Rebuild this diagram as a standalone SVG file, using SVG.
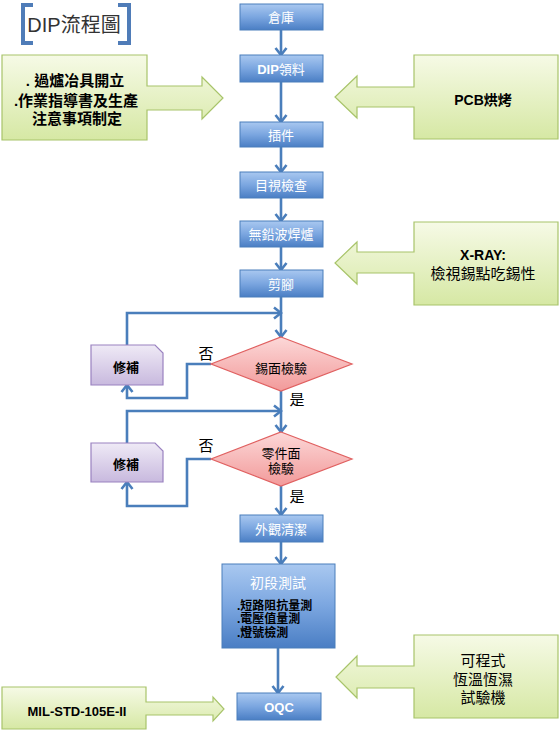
<svg xmlns="http://www.w3.org/2000/svg" width="560" height="731" viewBox="0 0 560 731">
<defs>
<linearGradient id="gBlue" x1="0" y1="0" x2="0" y2="1">
<stop offset="0" stop-color="#a9c8f0"/><stop offset="0.5" stop-color="#7ba6e0"/><stop offset="1" stop-color="#4a7ec4"/>
</linearGradient>
<linearGradient id="gGreen" x1="0" y1="0" x2="0" y2="1">
<stop offset="0" stop-color="#f6fae6"/><stop offset="1" stop-color="#d6e8a4"/>
</linearGradient>
<linearGradient id="gRed" x1="0" y1="0" x2="0" y2="1">
<stop offset="0" stop-color="#fcd8d8"/><stop offset="1" stop-color="#f29a9a"/>
</linearGradient>
<linearGradient id="gPurple" x1="0" y1="0" x2="0" y2="1">
<stop offset="0" stop-color="#efeaf6"/><stop offset="1" stop-color="#c8b9de"/>
</linearGradient>
<marker id="arr" markerUnits="userSpaceOnUse" markerWidth="14" markerHeight="14" viewBox="0 0 14 14" refX="12" refY="7" orient="auto">
<path d="M5,1.5 L12,7 L5,12.5" fill="none" stroke="#4a7ebb" stroke-width="2.6"/>
</marker>
</defs>
<style>
text{font-family:"Liberation Sans","Noto Sans CJK TC",sans-serif;text-anchor:middle;dominant-baseline:central}
.blue{fill:url(#gBlue);stroke:#4a7ebb;stroke-width:1}
.bt{fill:#fff;font-size:13px}
.green{fill:url(#gGreen);stroke:#a8c46a;stroke-width:1.2}
.gt{fill:#000;font-size:15px;font-weight:bold}
.red{fill:url(#gRed);stroke:#e06060;stroke-width:1.2}
.purple{fill:url(#gPurple);stroke:#9a82c0;stroke-width:1.2}
.dt{fill:#000;font-size:13px}
.conn{fill:none;stroke:#4a7ebb;stroke-width:2.6;marker-end:url(#arr)}
.lbl{fill:#000;font-size:15px}
</style>
<rect width="560" height="731" fill="#fff"/>

<g id="title">
<path d="M33,5 H23 V43 H33" fill="none" stroke="#4f7cb8" stroke-width="4"/>
<path d="M118,5 H129 V43 H118" fill="none" stroke="#4f7cb8" stroke-width="4"/>
<text x="74" y="25" style="font-size:20px;fill:#333">DIP流程圖</text>
</g>

<g id="connectors">
<path class="conn" d="M281,30 V55"/>
<path class="conn" d="M281,82 V122"/>
<path class="conn" d="M281,147 V172"/>
<path class="conn" d="M281,198 V221"/>
<path class="conn" d="M281,247 V270"/>
<path class="conn" d="M281,297 V337"/>
<path class="conn" d="M127,345 V313 H281"/>
<path class="conn" d="M211,364 H187 V398 H127 V385"/>
<path class="conn" d="M281,391 V432"/>
<path class="conn" d="M127,443 V411 H281"/>
<path class="conn" d="M211,459 H187 V506 H127 V482"/>
<path class="conn" d="M281,486 V515"/>
<path class="conn" d="M281,542 V564"/>
<path class="conn" d="M278,648 V693"/>
<text class="lbl" x="206" y="353">否</text>
<text class="lbl" x="297" y="399">是</text>
<text class="lbl" x="206" y="445">否</text>
<text class="lbl" x="297" y="496">是</text>
</g>

<g id="n-warehouse"><rect class="blue" x="240" y="4" width="83" height="26"/><text class="bt" x="281" y="17">倉庫</text></g>
<g id="n-dip"><rect class="blue" x="240" y="55" width="83" height="27"/><text class="bt" x="281" y="69"><tspan font-weight="bold">DIP</tspan>領料</text></g>
<g id="n-insert"><rect class="blue" x="240" y="122" width="83" height="25"/><text class="bt" x="281" y="135">插件</text></g>
<g id="n-visual"><rect class="blue" x="240" y="172" width="83" height="26"/><text class="bt" x="281" y="185">目視檢查</text></g>
<g id="n-wave"><rect class="blue" x="240" y="221" width="83" height="26"/><text class="bt" x="281" y="234">無鉛波焊爐</text></g>
<g id="n-trim"><rect class="blue" x="240" y="270" width="83" height="27"/><text class="bt" x="281" y="284">剪腳</text></g>

<g id="d-solder"><polygon class="red" points="281,337 352,364 281,391 211,364"/><text class="dt" x="281" y="368">錫面檢驗</text></g>
<g id="d-comp"><polygon class="red" points="281,432 352,459 281,486 211,459"/><text class="dt" x="281" y="453">零件面</text><text class="dt" x="281" y="468">檢驗</text></g>

<g id="r-repair1"><path class="purple" d="M91,345 H155 L163,353 V385 H91 Z"/><text class="dt" x="126" y="367" font-weight="bold">修補</text></g>
<g id="r-repair2"><path class="purple" d="M91,443 H155 L163,451 V482 H91 Z"/><text class="dt" x="126" y="464" font-weight="bold">修補</text></g>

<g id="n-clean"><rect class="blue" x="240" y="515" width="83" height="27"/><text class="bt" x="281" y="529">外觀清潔</text></g>
<g id="n-test"><rect class="blue" x="222" y="564" width="113" height="84"/>
<text class="bt" x="278" y="583" style="font-size:14px">初段測試</text>
<text x="237" y="606" style="font-size:12px;font-weight:bold;text-anchor:start;fill:#000">.短路阻抗量測</text>
<text x="237" y="619" style="font-size:12px;font-weight:bold;text-anchor:start;fill:#000">.電壓值量測</text>
<text x="237" y="633" style="font-size:12px;font-weight:bold;text-anchor:start;fill:#000">.燈號檢測</text>
</g>
<g id="n-oqc"><rect class="blue" x="237" y="693" width="84" height="27"/><text class="bt" x="279" y="707" font-weight="bold">OQC</text></g>

<g id="g-fixture"><path class="green" d="M2,55 H147 V86 H202 V77 L223,98 L202,119 V110 H147 V140 H2 Z"/>
<text class="gt" x="75" y="80">. 過爐冶具開立</text>
<text class="gt" x="76" y="100">.作業指導書及生產</text>
<text class="gt" x="77" y="118">注意事項制定</text></g>
<g id="g-pcb"><path class="green" d="M558,55 V139 H414 V107 H357 V118 L335,97 L357,76 V87 H414 V55 Z"/>
<text class="gt" x="483" y="100" style="font-size:14px">PCB烘烤</text></g>
<g id="g-xray"><path class="green" d="M558,222 V305 H414 V273 H357 V284 L335,263 L357,242 V252 H414 V222 Z"/>
<text class="gt" x="483" y="255" style="font-size:14px">X-RAY:</text>
<text class="gt" x="483" y="273" style="font-weight:normal">檢視錫點吃錫性</text></g>
<g id="g-chamber"><path class="green" d="M558,635 V718 H414 V688 H357 V698 L336,677 L357,656 V666 H414 V635 Z"/>
<text class="gt" x="483" y="660" style="font-weight:normal">可程式</text>
<text class="gt" x="483" y="679" style="font-weight:normal">恆溫恆濕</text>
<text class="gt" x="483" y="697" style="font-weight:normal">試驗機</text></g>
<g id="g-mil"><path class="green" d="M2,687 H146 V702 H213 V697 L224,709 L213,721 V715 H146 V729 H2 Z"/>
<text class="gt" x="77" y="711" style="font-size:13px">MIL-STD-105E-II</text></g>
</svg>
